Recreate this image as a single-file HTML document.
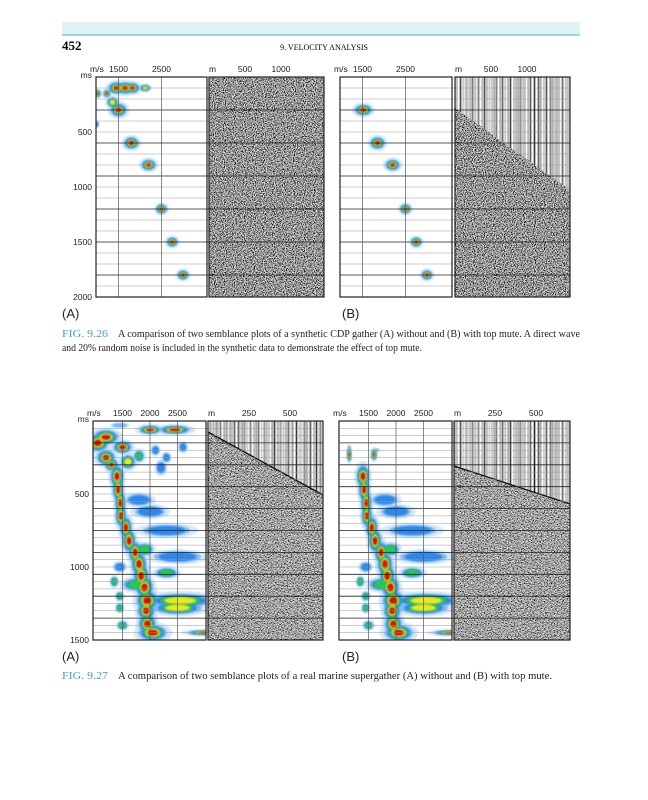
<!DOCTYPE html>
<html><head><meta charset="utf-8"><style>
html,body{margin:0;padding:0;background:#fff;width:648px;height:800px;overflow:hidden}
svg{display:block}
.tk{font-family:"Liberation Sans",sans-serif;font-size:8.5px;fill:#222}
.cap{font-family:"Liberation Serif",serif;font-size:11px;fill:#222}
.lab{font-family:"Liberation Sans",sans-serif;font-size:13px;fill:#222}
</style></head><body>
<svg id="pg" width="648" height="800" viewBox="0 0 648 800">
<defs>
<filter id="nz" x="0" y="0" width="100%" height="100%"><feTurbulence type="fractalNoise" baseFrequency="0.9 1.2" numOctaves="1" seed="3"/><feColorMatrix type="matrix" values="2.6 0 0 0 -0.95  2.6 0 0 0 -0.95  2.6 0 0 0 -0.95  0 0 0 0 1"/></filter>
<filter id="nz2" x="0" y="0" width="100%" height="100%"><feTurbulence type="fractalNoise" baseFrequency="0.7 1.3" numOctaves="1" seed="7"/><feColorMatrix type="matrix" values="2.4 0 0 0 -0.8  2.4 0 0 0 -0.8  2.4 0 0 0 -0.8  0 0 0 0 1"/></filter>
<filter id="st" x="0" y="0" width="100%" height="100%"><feTurbulence type="fractalNoise" baseFrequency="0.5 0.0001" numOctaves="1" seed="5"/><feColorMatrix type="matrix" values="2.6 0 0 0 -0.75  2.6 0 0 0 -0.75  2.6 0 0 0 -0.75  0 0 0 0 1"/></filter>
<filter id="bl"><feGaussianBlur stdDeviation="0.7"/></filter>
<clipPath id="cTA"><rect x="96" y="77" width="111" height="220"/></clipPath>
<clipPath id="cTB"><rect x="340" y="77" width="112" height="220"/></clipPath>
<clipPath id="cBA"><rect x="93" y="421" width="113" height="219"/></clipPath>
<clipPath id="cBB"><rect x="339" y="421" width="113" height="219"/></clipPath>
<clipPath id="mTB"><polygon points="455,77 570,77 570,190 455,108"/></clipPath>
<clipPath id="mBA"><polygon points="208,421 323,421 323,495 208,432"/></clipPath>
<clipPath id="mBB"><polygon points="454,421 570,421 570,504 454,466"/></clipPath>
</defs>
<rect x="62" y="22" width="518" height="13" fill="#dff3f3"/>
<line x1="62" y1="35" x2="580" y2="35" stroke="#4fb3b8" stroke-width="1"/>
<text x="62" y="50" style="font-family:'Liberation Serif',serif;font-size:13px;font-weight:bold">452</text>
<text x="324" y="50" text-anchor="middle" style="font-family:'Liberation Serif',serif;font-size:8px">9.  VELOCITY ANALYSIS</text>

<g><rect x="209" y="77" width="115" height="220" fill="#555" filter="url(#nz)"/></g>
<g><rect x="455" y="77" width="115" height="220" fill="#555" filter="url(#nz)"/>
<g clip-path="url(#mTB)"><rect x="455" y="77" width="115" height="113" fill="#999" filter="url(#st)"/></g></g>
<g><rect x="208" y="421" width="115" height="219" fill="#777" filter="url(#nz2)"/>
<g clip-path="url(#mBA)"><rect x="208" y="421" width="115" height="74" fill="#999" filter="url(#st)"/></g>
<line x1="208" y1="432" x2="323" y2="495" stroke="#111" stroke-width="1.3"/></g>
<g><rect x="454" y="421" width="116" height="219" fill="#777" filter="url(#nz2)"/>
<g clip-path="url(#mBB)"><rect x="454" y="421" width="116" height="83" fill="#999" filter="url(#st)"/></g>
<line x1="454" y1="466" x2="570" y2="504" stroke="#111" stroke-width="1.3"/></g>

<g id="dyn"></g>

<text x="62" y="318" class="lab">(A)</text>
<text x="342" y="318" class="lab">(B)</text>
<text x="62" y="661" class="lab">(A)</text>
<text x="342" y="661" class="lab">(B)</text>

<g>
<text x="62" y="337" class="cap" style="fill:#3aa6b4" textLength="46" lengthAdjust="spacingAndGlyphs">FIG. 9.26</text>
<text x="118" y="337" class="cap" textLength="462" lengthAdjust="spacingAndGlyphs">A comparison of two semblance plots of a synthetic CDP gather (A) without and (B) with top mute. A direct wave</text>
<text x="62" y="351" class="cap" textLength="360" lengthAdjust="spacingAndGlyphs">and 20% random noise is included in the synthetic data to demonstrate the effect of top mute.</text>
</g>
<g>
<text x="62" y="679" class="cap" style="fill:#3aa6b4" textLength="46" lengthAdjust="spacingAndGlyphs">FIG. 9.27</text>
<text x="118" y="679" class="cap" textLength="434" lengthAdjust="spacingAndGlyphs">A comparison of two semblance plots of a real marine supergather (A) without and (B) with top mute.</text>
</g>
</svg>
<script>
var topTicksT = [0, 500, 1000, 1500, 2000];
var topTickLabelsT = ["ms","500","1000","1500","2000"];
var topTicksV = [1500, 2500];
var topOffsetTicks = [500, 1000];
var botTicksT = [0, 500, 1000, 1500];
var botTickLabelsT = ["ms","500","1000","1500"];
var botTicksV = [1500, 2000, 2500];
var botOffsetTicks = [250, 500];

// time(ms), velocity(m/s), half-width(m/s), half-height(ms), strength
var topA_t = [100,100,100,100,150,150,230,300,430,600,800,1200,1500,1800];
var topA_v = [1450,1650,1820,2120,1010,1230,1360,1500,980,1800,2200,2500,2750,3000];
var topA_dv= [190,190,180,140,90,90,140,190,80,170,170,130,130,130];
var topA_dt= [55,55,50,35,35,35,50,60,35,55,50,45,45,45];
var topA_s = [1,1,0.9,0.6,0.9,0.9,0.7,1,0.3,1,1,0.95,0.95,0.95];
var topB_t = [300,600,800,1200,1500,1800];
var topB_v = [1520,1850,2200,2500,2750,3000];
var topB_dv= [200,170,170,130,130,130];
var topB_dt= [50,55,50,45,45,45];
var topB_s = [1,1,1,0.95,0.95,0.95];

var botA_t = [60,60,30,110,150,180,250,280,240,300,250,200,180,320,380,470,560,650,730,820,900,980,1060,1140,1230,1300,1390,1450,1230,1280,1450,1120,1040,880,750,930,1000,1200,1280,1400,1100,620,540];
var botA_v = [2000,2450,1450,1200,1050,1500,1200,1600,1800,1300,2300,2100,2600,2200,1400,1420,1460,1470,1560,1620,1730,1800,1840,1900,1950,1930,1950,2050,2550,2500,3000,1750,2300,1900,2300,2500,1450,1450,1450,1500,1350,2000,1800];
var botA_dv= [200,280,180,230,200,180,180,150,110,130,90,90,90,110,120,100,100,100,110,120,120,140,140,160,200,160,160,260,650,500,350,280,240,190,550,550,130,80,80,110,80,350,300];
var botA_dt= [30,30,20,50,60,45,55,55,45,45,40,40,40,55,80,80,80,75,75,80,75,80,80,75,70,65,65,55,55,50,20,50,40,50,50,50,40,35,35,35,40,50,50];
var botA_s = [1,1,0.2,1,1,0.8,0.8,0.6,0.5,0.8,0.3,0.3,0.3,0.3,1,1,1,1,1,1,1,1,1,1,1,1,1,1,0.6,0.6,0.75,0.5,0.4,0.4,0.25,0.25,0.3,0.5,0.5,0.4,0.5,0.25,0.25];
var botB_t = [180,230,230,200,380,470,560,650,730,820,900,980,1060,1140,1230,1300,1390,1450,1230,1280,1450,1120,1040,880,750,930,1000,1200,1280,1400,1100,620,540];
var botB_v = [1150,1150,1600,1650,1400,1420,1460,1470,1560,1620,1730,1800,1840,1900,1950,1930,1950,2050,2550,2500,3000,1750,2300,1900,2300,2500,1450,1450,1450,1500,1350,2000,1800];
var botB_dv= [40,45,55,55,120,100,100,100,110,120,120,140,140,160,200,160,160,260,650,500,350,280,240,190,550,550,130,80,80,110,80,350,300];
var botB_dt= [15,50,40,15,80,80,80,75,75,80,75,80,80,75,70,65,65,55,55,50,20,50,40,50,50,50,40,35,35,35,40,50,50];
var botB_s = [0.2,0.9,0.9,0.2,1,1,1,1,1,1,1,1,1,1,1,1,1,1,0.6,0.6,0.75,0.5,0.4,0.4,0.25,0.25,0.3,0.5,0.5,0.4,0.5,0.25,0.25];

function topY(t){return 77 + t*0.11;}
function topX(v, off){return 97 + off + (v-1000)*0.043;}
function botY(t){return 421 + t*0.146;}
function botX(v, off){return 95 + off + (v-1000)*0.055;}

var NS="http://www.w3.org/2000/svg";
var dyn=document.getElementById('dyn');
function mk(tag, attrs, parent){var e=document.createElementNS(NS,tag);for(var k in attrs)e.setAttribute(k,attrs[k]);(parent||dyn).appendChild(e);return e;}

function blobs(g, ts, vs, dvs, dts, ss, X, Y, off){
  var layers=[[1.35,'#d3e8fa',0],[1,'#7cbaf2',0],[0.8,'#2a88ee',0.25],[0.64,'#22cc44',0.4],[0.5,'#e8e81a',0.6],[0.37,'#e01010',0.72]];
  layers.forEach(function(L){
    for(var i=0;i<ts.length;i++){
      if(ss[i]<L[2])continue;
      var cx=X(vs[i],off), cy=Y(ts[i]);
      var rx=Math.abs(X(vs[i]+dvs[i],off)-cx), ry=Math.abs(Y(ts[i]+dts[i])-cy);
      var f=L[0]*(0.7+0.3*ss[i]);
      var e=mk('ellipse',{cx:cx,cy:cy,rx:Math.max(rx*f,0.8),ry:Math.max(ry*f,0.8),fill:L[1],filter:'url(#bl)'},g);
      
      
    }
  });
}

function panel(cfg){
  var g=mk('g',{});
  
  
  var inner=mk('g',{'clip-path':'url(#'+cfg.clip+')'},g);
  blobs(inner,cfg.t,cfg.v,cfg.dv,cfg.dt,cfg.s,cfg.X,cfg.Y,cfg.off);
  for(var t=cfg.step;t<cfg.tmax;t+=cfg.step){
    var y=cfg.Y(t);
    var dark=(Math.round(t/cfg.step)%3===0);
    var l=mk('line',{x1:cfg.x0,x2:cfg.gx1,y1:y,y2:y,stroke:dark?'#222':'#999','stroke-width':dark?0.8:0.5},g);
    
    
  }
  cfg.vt.forEach(function(v){
    var x=cfg.X(v,cfg.off);
    var l=mk('line',{x1:x,x2:x,y1:cfg.y0,y2:cfg.y1,stroke:'#555','stroke-width':0.7},g);
    
    
    var tx=mk('text',{x:x,y:cfg.y0-5,'text-anchor':'middle','class':'tk'},g);tx.textContent=v;
    
    
  });
  var u=mk('text',{x:cfg.x0-6,y:cfg.y0-5,'class':'tk'},g);u.textContent='m/s';
  
  
  var r=mk('rect',{x:cfg.x0,y:cfg.y0,width:cfg.x1-cfg.x0,height:cfg.y1-cfg.y0,fill:'none',stroke:'#222','stroke-width':1.2},g);
  
  
  var r2=mk('rect',{x:cfg.gx0,y:cfg.y0,width:cfg.gx1-cfg.gx0,height:cfg.y1-cfg.y0,fill:'none',stroke:'#222','stroke-width':1.2},g);
  
  
  var m=mk('text',{x:cfg.gx0,y:cfg.y0-5,'class':'tk'},g);m.textContent='m';
  
  
  cfg.ot.forEach(function(o){
    var ox=cfg.gx0+o*cfg.oScale;
    var tx=mk('text',{x:ox,y:cfg.y0-5,'text-anchor':'middle','class':'tk'},g);tx.textContent=o;
    
    
  });
  if(cfg.showT){
    cfg.tt.forEach(function(t,i){
      var tx=mk('text',{x:cfg.x0-4,y:cfg.Y(t)+(i===0?1:3),'text-anchor':'end','class':'tk'},g);tx.textContent=cfg.tl[i];
      
      
    });
  }
}

panel({name:'semblance-top-a',clip:'cTA',t:topA_t,v:topA_v,dv:topA_dv,dt:topA_dt,s:topA_s,X:topX,Y:topY,off:0,x0:96,x1:207,gx0:209,gx1:324,y0:77,y1:297,step:100,tmax:2000,vt:topTicksV,ot:topOffsetTicks,oScale:0.072,showT:true,tt:topTicksT,tl:topTickLabelsT});
panel({name:'semblance-top-b',clip:'cTB',t:topB_t,v:topB_v,dv:topB_dv,dt:topB_dt,s:topB_s,X:topX,Y:topY,off:244,x0:340,x1:452,gx0:455,gx1:570,y0:77,y1:297,step:100,tmax:2000,vt:topTicksV,ot:topOffsetTicks,oScale:0.072,showT:false,tt:topTicksT,tl:topTickLabelsT});
panel({name:'semblance-bottom-a',clip:'cBA',t:botA_t,v:botA_v,dv:botA_dv,dt:botA_dt,s:botA_s,X:botX,Y:botY,off:0,x0:93,x1:206,gx0:208,gx1:323,y0:421,y1:640,step:50,tmax:1500,vt:botTicksV,ot:botOffsetTicks,oScale:0.164,showT:true,tt:botTicksT,tl:botTickLabelsT});
panel({name:'semblance-bottom-b',clip:'cBB',t:botB_t,v:botB_v,dv:botB_dv,dt:botB_dt,s:botB_s,X:botX,Y:botY,off:246,x0:339,x1:452,gx0:454,gx1:570,y0:421,y1:640,step:50,tmax:1500,vt:botTicksV,ot:botOffsetTicks,oScale:0.164,showT:false,tt:botTicksT,tl:botTickLabelsT});
</script>
</body></html>
